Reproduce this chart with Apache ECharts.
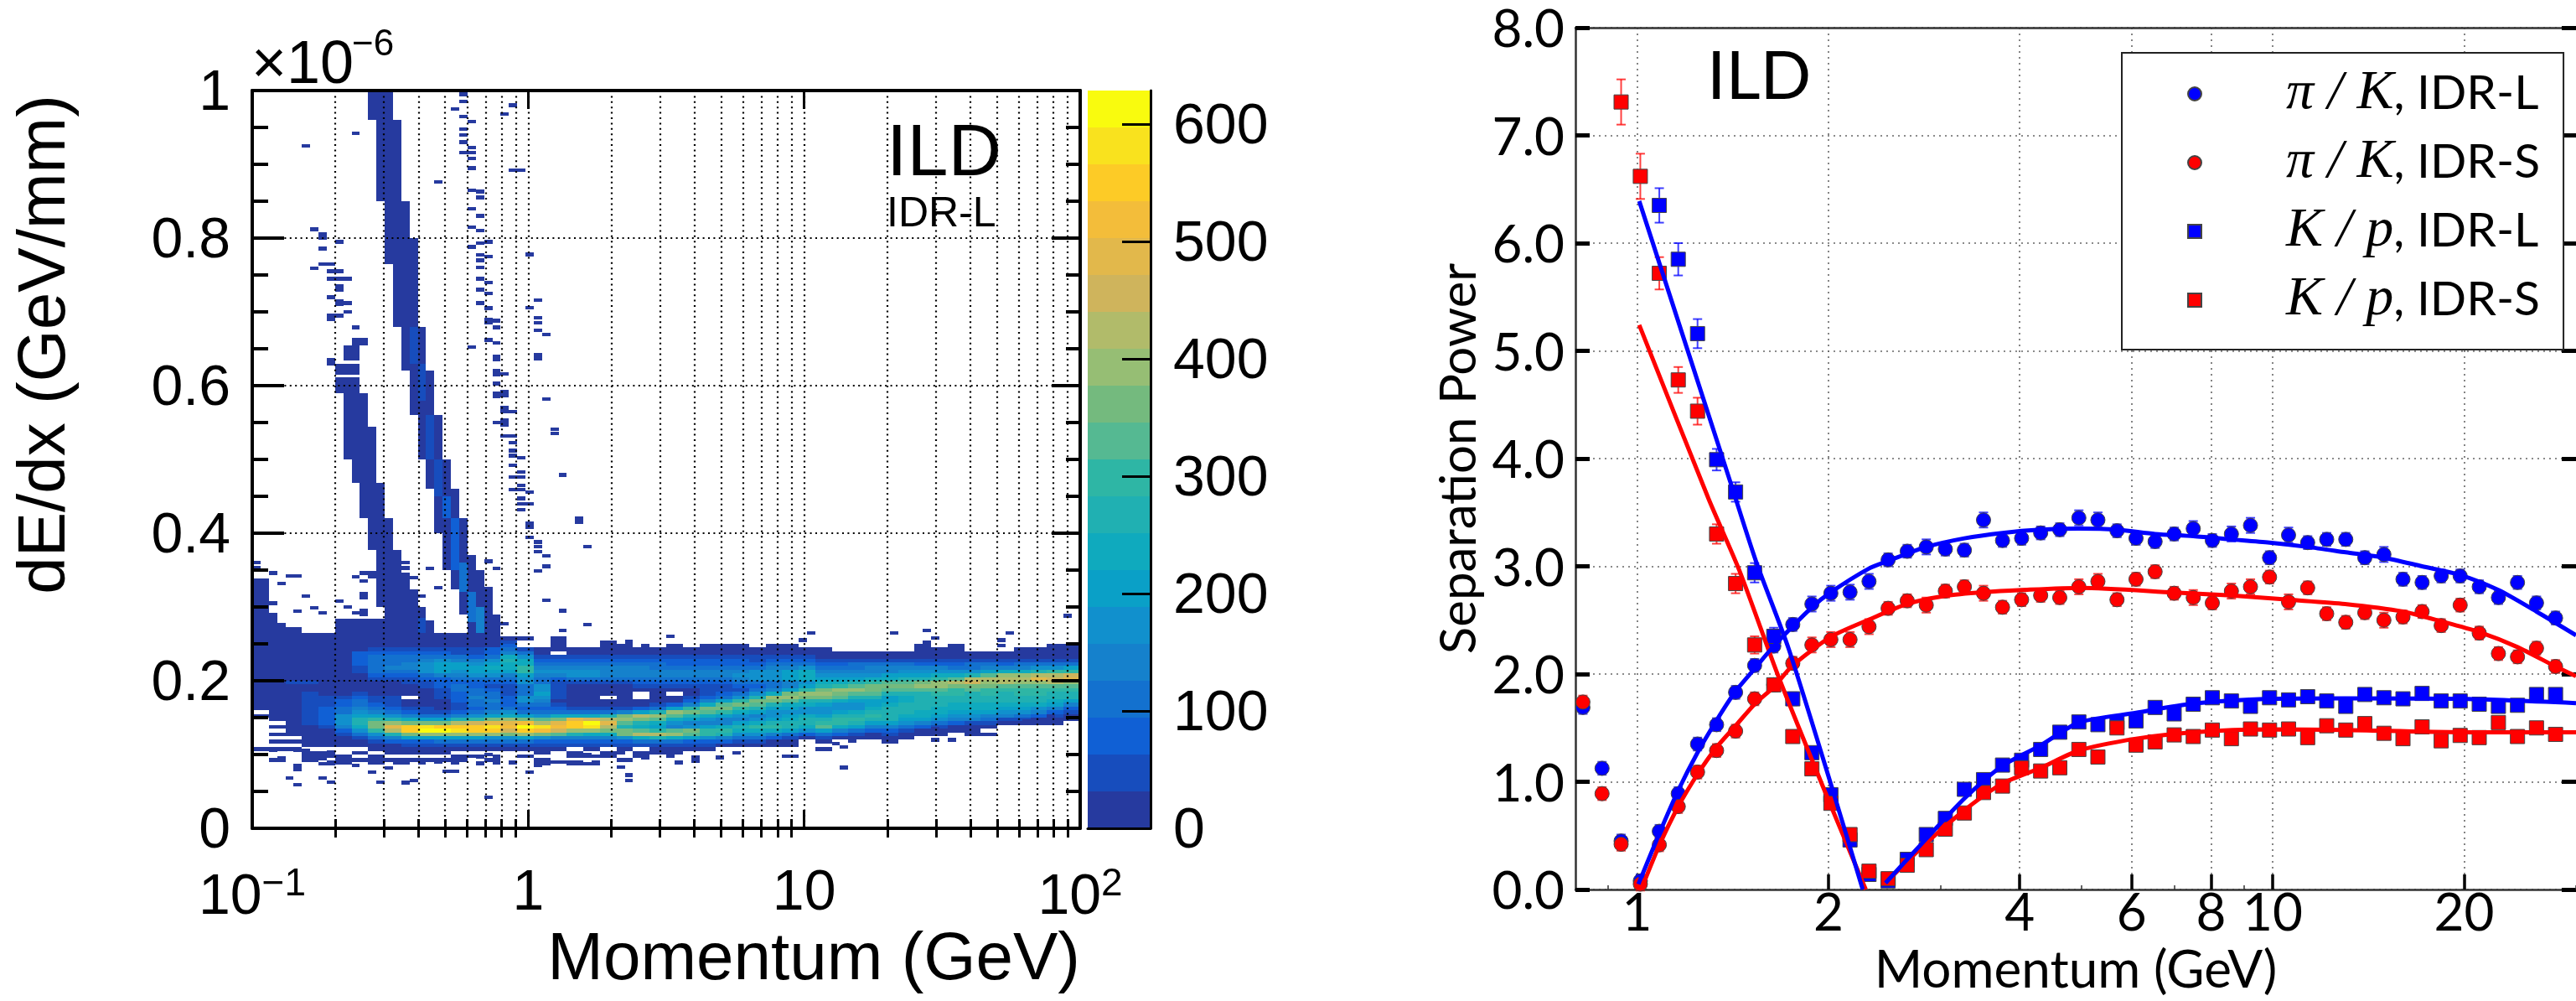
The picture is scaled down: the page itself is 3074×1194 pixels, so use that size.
<!DOCTYPE html>
<html><head><meta charset="utf-8">
<style>html,body{margin:0;padding:0;background:#fff}#c{width:3074px;height:1194px}</style>
<script src="https://cdn.jsdelivr.net/npm/echarts@6/dist/echarts.min.js"></script>
</head><body><div id="c"></div>
<script>
// ---------- left panel: dE/dx histogram ----------
const bandColors = ['#263A9F','#174DBD','#1060D5','#1371CF','#1581CC','#1190CD','#0AA0C7','#0FAABE','#20B0B2','#2EB6A5',
  '#55B992','#74BA7E','#96BE74','#B1BB6A','#CFB45C','#E2B84B','#F3BD3A','#FDCB26','#F9E21E','#F9FB0E'];
const colorbarMax = 628.57;
// raster of the dense band: one string per 0.06-decade column, top row dE/dx=0.265, rows 0.005 tall; chars = colour band (base 20)
const rasterColumns = [
"00000 00000 00000 00000 0.0.. ..... .0...",
"00000 00000 00000 00000 0000. 0.0.0 .0..0",
"00000 00000 00010 00000 00000 000.0 .0...",
"00000 00000 00010 01111 11111 00000 0.0.0",
"00000 00000 00000 00111 22222 10000 0.00. 0",
"00000 00000 00000 00122 33555 42100 0..00",
"00000 22221 10000 01233 45688 75310 0.0.0",
"00001 23333 32100 00112 3469b b9531 00.00",
"00001 23334 32100 00111 2358c fd842 000.0",
"00001 23344 32110 00.00 1247b hhb62 100.0",
"00001 23455 53211 00000 1136b ijc62 100.0",
"00001 23566 64222 11100 0136b hjc63 100.0",
"00001 13466 54323 32221 1248d hic63 10.00",
"00001 12456 65322 33433 2359e hhc63 10.0.",
"00002 23567 65321 23343 346bf ihc53 10..0",
".0123 47877 64321 11222 357cf geb53 10...",
".0..1 35779 96553 33553 236bg jhc63 10.0.",
"....0 01234 54335 56543 235ad igb52 100.0 0",
".0000 .1234 54211 11101 237bf gea42 10...",
"....0 01234 55310 00000 137fh hc842 1.00. 0",
"....0 01234 55310 00000 137ej ic742 10.0. 0",
"..000 01234 44310 00.00 138df db742 1.00.",
"...00 01234 44310 00000 14bca 8bb52 10..0",
"....0 01234 44321 0..00 26db8 7ad73 1.00.",
"....0 01233 44321 00001 38ca7 69d83 100..",
"...00 01223 44321 0.002 6ca75 4ac73 100..",
"....0 01223 44321 00124 9b864 5ba62 10...",
"...00 01223 44321 11247 ba754 69952 10...",
"...00 01223 44321 1236a b9644 79842 0....",
"....0 01223 45432 1359b 97546 87531 0....",
"....0 01123 55532 358ba 86457 97531 0",
"...00 01234 55533 47cb8 65568 97420 0",
"...00 01234 66644 6bca7 65678 86310 0",
"....0 01235 77756 9cb87 55788 7520.",
"....0 00123 45678 bcb86 55689 a6310 .0",
"..... 00123 45679 cba75 56899 7420.",
"..... 00133 4568a ca865 57898 6310.",
"..... 00134 4579b ba866 78986 4200.",
"..... 00134 467ab a8667 88886 42100",
"..... 00134 568ab a8778 88765 3100.",
"...00 00124 568bc a8888 87764 200..",
"....0 00124 579cc a9888 77653 100..",
"...00 00123 57adb 99887 76542 00...",
"..... 00133 58deb a8887 76541 000..",
"..... 00134 6adcb 99887 76431 0.0..",
"..... 00124 7cdda 98887 65410 .....",
"....0 00134 7cdca 99887 65310",
"....0 00135 8dfca 99887 54200",
"...00 00135 9deda 98876 42100",
"...00 00136 9efca 98864 2100"
];
// solid runs of the two tails: [first bin, last bin edge, dE/dx top, dE/dx bottom, colour band] (bin = 0.03 decade)
const tailRuns = [
[14,17,1,.96,0],[15,18,.96,.85,0],[16,19,.85,.80,0],[16,20,.80,.765,0],[17,20,.765,.68,0],[18,21,.68,.62,0],[19,22,.62,.56,0],
[20,23,.56,.50,0],[21,24,.50,.46,0],[22,25,.46,.42,0],[22,26,.42,.40,0],[23,26,.40,.37,0],[23,27,.37,.35,0],[24,28,.35,.324,0],
[25,29,.324,.29,0],[26,30,.29,.265,0],
[19,20,.68,.63,1],[20,21,.63,.58,1],[21,22,.56,.50,1],[22,23,.50,.45,1],[23,24,.45,.42,2],[24,25,.42,.35,2],[25,26,.36,.32,3],[26,27,.32,.28,3],[27,28,.30,.265,4],
[12,14,.665,.654,0],[11,13,.654,.634,0],[10,13,.629,.615,0],[10,13,.611,.59,0],[11,14,.59,.544,0],[11,15,.544,.50,0],[12,15,.50,.468,0],
[13,16,.468,.42,0],[14,17,.42,.377,0],[15,18,.377,.347,0],[15,19,.347,.324,0],[15,20,.324,.30,0],[16,21,.30,.282,0],[16,22,.282,.265,0],
[20,21,.285,.265,1],
[0,2,.339,.265,0],[2,3,.292,.265,0],[3,4,.278,.265,0],[4,6,.273,.265,0],[10,16,.284,.265,0]
];
// isolated filled bins: [bin, dE/dx]
const strayBins = [
[25,.995],[25,.985],[24,.975],[25,.965],[26,.958],[25,.948],[25,.94],[25,.93],[26,.923],[25,.916],[26,.916],[26,.908],[26,.895],[26,.865],[27,.863],[27,.855],
[26,.84],[27,.83],[26,.815],[27,.81],[27,.793],[26,.788],[28,.795],[27,.777],[28,.775],[27,.77],[27,.76],[27,.745],[28,.74],[27,.73],[28,.725],[27,.712],
[28,.705],[28,.69],[28,.685],[29,.688],[29,.679],[28,.662],[29,.658],[26,.652],[29,.64],[29,.635],[29,.62],[29,.615],[30,.616],[29,.603],[29,.59],[30,.592],[30,.587],
[29,.585],[30,.57],[30,.565],[31,.565],[29,.55],[30,.553],[30,.547],[30,.532],[31,.532],[31,.523],[31,.512],[31,.505],[32,.502],[31,.492],[31,.476],[32,.483],[32,.476],
[32,.465],[31,.459],[32,.459],[33,.456],[32,.447],[32,.44],[33,.44],[32,.432],[33,.413],[33,.408],[33,.394],[34,.388],[34,.382],[34,.375],[35,.369],[35,.355],[34,.349],
[39,.42],[39,.415],[40,.382],[35,.309],[37,.295],[29,.352],[28,.362],[28,.325],[28,.32],[40,.276],[37,.268],[30,.277],[34,.716],[33,.706],[34,.692],[34,.685],[34,.675],[35,.669],
[34,.642],[34,.637],[35,.582],[36,.541],[36,.535],[37,.479],[33,.778],[31,.98],[30,.968],[31,.892],[32,.892],[22,.876],
[12,.942],[6,.925],[7,.812],[8,.805],[8,.80],[8,.786],[10,.795],[8,.765],[9,.765],[7,.759],[9,.755],[10,.755],[10,.745],[11,.745],[9,.745],[10,.735],[10,.73],[9,.72],[10,.715],[10,.71],
[11,.712],[11,.70],[9,.695],[10,.695],[9,.69],[12,.679],[9,.635],[9,.63],
[0,.36],[0,.353],[2,.346],[4,.342],[5,.342],[3,.332],[6,.315],[2,.305],[10,.308],[13,.318],[13,.313],[13,.335],[12,.341],[13,.346],[14,.346],[14,.341],[15,.362],[15,.355],
[18,.36],[18,.353],[21,.352],[22,.326],[20,.315],[19,.34],[5,.294],[7,.299],[8,.292],[11,.30],[12,.292],[13,.29],[13,.295],
[28,.042],[5,.059],[9,.0625],[15,.0625],[19,.065],[18,.062],[45,.072],[45,.065],[4,.068],[8,.068],[44,.083],[33,.076],[23,.077],[24,.077],[14,.076],[34,.085],[53,.096],[53,.091],
[71,.0825],[50,.26],[45,.253],[47,.248],[66,.255],[67,.265],[58,.248],[59,.248],[77,.265],[81,.252],[81,.268],[82,.258],[84,.245],[90,.255],[91,.265],[90,.248],[98,.288],
[72,.118],[69,.118],[70,.115],[71,.11],[82,.135],[82,.12],[84,.12],[86,.13],[87,.135],[93,.145],[94,.145],[96,.152],
[27,.097],[28,.10],[29,.097],[24,.095],[25,.095],[36,.09],[37,.09],[39,.10],[40,.10],
[2,.106],[5,.106],[6,.106],[9,.103],[3,.095],[5,.085],[5,.08],[6,.098],[7,.098],[8,.095],[9,.089],[10,.089],[11,.089],[12,.085],[14,.089],[15,.089],[16,.082],[17,.089],[18,.089],
[20,.089],[22,.09],[24,.089],[27,.088],[29,.089],[31,.089],[34,.087],[38,.089],[39,.089],[41,.089],[44,.102],[47,.096],[50,.098],[51,.089],[56,.096],[58,.102],[64,.098],[65,.098]
];
const leftMajorX = [0.1,1,10,100];
const leftMinorX = [.2,.3,.4,.5,.6,.7,.8,.9,2,3,4,5,6,7,8,9,20,30,40,50,60,70,80,90];
const leftXLabels = {0.1:'{n|10}{s|−1}',1:'{n|1}',10:'{n|10}',100:'{n|10}{s|2}'};

// ---------- right panel: separation power ----------
const momentum = [0.822,0.881,0.944,1.012,1.084,1.161,1.245,1.334,1.429,1.531,1.641,1.758,1.884,2.018,2.163,2.317,2.483,2.661,2.851,3.055,3.273,3.508,3.758,4.027,4.315,4.624,
 4.955,5.309,5.689,6.095,6.531,6.998,7.499,8.035,8.610,9.226,9.886,10.59,11.35,12.16,13.03,13.96,14.96,16.03,17.18,18.41,19.72,21.13,22.65,24.27,26.00,27.86];
const piKLong = [1.69,1.125,.45,.08,.54,.89,1.35,1.53,1.83,2.08,2.26,2.46,2.65,2.75,2.76,2.86,3.06,3.14,3.18,3.16,3.15,3.43,3.24,3.26,
 3.31,3.34,3.45,3.43,3.33,3.26,3.23,3.30,3.35,3.24,3.30,3.38,3.08,3.29,3.22,3.25,3.25,3.08,3.11,2.88,2.85,2.91,2.91,2.81,2.71,2.85,2.66,2.52];
const piKShort = [1.74,.89,.42,.05,.415,.77,1.09,1.29,1.47,1.77,1.90,2.10,2.27,2.32,2.32,2.44,2.61,2.68,2.64,2.77,2.81,2.75,2.62,2.69,
 2.73,2.71,2.81,2.86,2.69,2.88,2.95,2.75,2.71,2.66,2.77,2.81,2.90,2.67,2.80,2.56,2.48,2.57,2.50,2.53,2.58,2.45,2.64,2.38,2.19,2.16,2.24,2.07];
const kpLong = [null,null,null,null,6.35,5.85,5.16,3.99,3.69,2.94,2.35,1.77,1.27,.88,.46,.14,.08,.28,.51,.66,.93,1.02,1.155,1.20,
 1.30,1.46,1.555,1.53,1.55,1.565,1.69,1.63,1.72,1.78,1.75,1.70,1.78,1.76,1.79,1.75,1.70,1.81,1.78,1.77,1.82,1.75,1.75,1.72,1.70,1.71,1.81,1.81];
const kpShort = [null,null,7.31,6.62,5.72,4.73,4.44,3.30,2.84,2.27,1.90,1.42,1.12,.80,.51,.17,.10,.225,.37,.56,.71,.90,.96,1.13,
 1.10,1.13,1.30,1.23,1.50,1.34,1.37,1.435,1.42,1.48,1.40,1.49,1.48,1.49,1.41,1.52,1.48,1.54,1.45,1.40,1.51,1.38,1.43,1.41,1.55,1.42,1.50,1.44];
const kpLongErr = [0,0,0,0,.16,.15,.135,.10,.09,.09,.08,.06,.05,.05,.05];
const kpShortErr = [0,0,.21,.21,.15,.12,.125,.09,.09,.08,.06,.05,.05,.05,.05];
const piKErr = [.06,.06,.06,.06,.06,.06,.06,.06,.06,.06,.06,.06,.07,.07,.07,.07,.06,.06,.07,.06,.06,.07,.06,.06,.06,.06,.07,.07,.06,.06,.06,.06,.07,.06,.07,.07,.06,.07,.06,.06,.06,.06,.07,.06,.06,.06,.06,.06,.06,.06,.06,.06];
const fitPiKLong = [[1.005,.05],[1.084,.52],[1.161,.92],[1.245,1.27],[1.334,1.57],[1.429,1.84],[1.531,2.05],[1.641,2.26],[1.884,2.62],[2.018,2.76],[2.317,2.98],[2.483,3.05],[2.851,3.18],[3.273,3.26],[3.758,3.31],[4.315,3.34],[4.955,3.35],[5.689,3.34],[6.531,3.30],[7.499,3.28],[8.61,3.25],[9.886,3.22],[11.35,3.18],[13.03,3.13],[14.96,3.08],[17.18,3.00],[19.72,2.92],[22.65,2.78],[26,2.58],[30,2.36]];
const fitPiKShort = [[1.02,.03],[1.084,.41],[1.161,.77],[1.245,1.07],[1.334,1.32],[1.429,1.52],[1.531,1.72],[1.641,1.88],[1.758,2.08],[2.018,2.345],[2.317,2.505],[2.661,2.65],[3.055,2.725],[3.508,2.76],[4.027,2.78],[5.0,2.80],[7.0,2.757],[8.61,2.73],[10.59,2.69],[13.0,2.65],[16.03,2.58],[18.41,2.49],[21.13,2.39],[24.27,2.25],[27.86,2.07],[30,1.98]];
const fitKpLong = [[1.008,6.39],[1.406,3.76],[1.538,3.05],[1.733,2.23],[2.03,.93],[2.265,0]];
const fitKpShort = [[1.008,5.24],[1.295,3.63],[1.449,2.96],[1.672,1.965],[1.975,.91],[2.29,0]];
const fitKpRiseLong = [[2.46,.06],[2.85,.47],[3.28,.85],[3.76,1.15],[4.32,1.34],[4.955,1.55],[6.095,1.64],[7.5,1.725],[9.886,1.77],[13,1.775],[19.72,1.77],[30,1.73]];
const fitKpRiseShort = [[2.46,.06],[2.85,.43],[3.28,.74],[3.76,.985],[4.32,1.13],[4.955,1.29],[6.095,1.40],[7.5,1.46],[9.886,1.486],[13,1.48],[19.72,1.46],[30,1.46]];
const rightMajorX = [1,2,4,6,8,10,20];
const rightMinorX = [.9,3,5,7,9,30];
const rightYTicks = [0,1,2,3,4,5,6,7,8];
const legendNames = ['pikL','pikS','kpL','kpS'];

// ---------- build ----------
const BLACK='#000', RED='#ff0000', BLUE='#0000ff';
const FONT_L='"Liberation Sans"', FONT_R='Lato';
const edge = b => 0.1*Math.pow(10,b*0.03);
const histCells = [];
rasterColumns.forEach((col,c)=>{
  const s = col.replace(/ /g,'');
  for(let i=0;i<s.length;i++){
    if(s[i]==='.') continue;
    histCells.push([edge(2*c),edge(2*c+2),0.265-0.005*i,0.26-0.005*i,parseInt(s[i],20)]);
  }
});
tailRuns.forEach(r=>histCells.push([edge(r[0]),edge(r[1]),r[2],r[3],r[4]]));
strayBins.forEach(r=>histCells.push([edge(r[0]),edge(r[0]+1),r[1]+.0025,r[1]-.0025,0]));
const cellRender = (params,api)=>{
  const a=api.coord([api.value(0),api.value(2)]), b=api.coord([api.value(1),api.value(3)]);
  const x=Math.round(a[0]), y=Math.round(a[1]);
  return {type:'rect',shape:{x,y,width:Math.max(1,Math.round(b[0])-x),height:Math.max(1,Math.round(b[1])-y)},style:{fill:bandColors[api.value(4)]}};
};
const bandCells = bandColors.map((c,i)=>[i*colorbarMax/20,(i+1)*colorbarMax/20,i]);
const barRender = (params,api)=>{
  const a=api.coord([0,api.value(1)]), b=api.coord([1,api.value(0)]);
  return {type:'rect',shape:{x:a[0],y:Math.round(a[1]),width:b[0]-a[0],height:Math.round(b[1])-Math.round(a[1])},style:{fill:bandColors[api.value(2)]}};
};
const pairs = vals => momentum.map((p,i)=>vals[i]==null?null:[p,vals[i]]).filter(Boolean);
const errData = (vals,errs) => momentum.map((p,i)=>(vals[i]==null||!errs[i])?null:[p,vals[i]-errs[i],vals[i]+errs[i]]).filter(Boolean);
const errRender = color => (params,api)=>{
  const a=api.coord([api.value(0),api.value(1)]), b=api.coord([api.value(0),api.value(2)]);
  const st={stroke:color,lineWidth:2,opacity:.75};
  return {type:'group',children:[
    {type:'line',shape:{x1:a[0],y1:a[1],x2:b[0],y2:b[1]},style:st},
    {type:'line',shape:{x1:a[0]-5.5,y1:a[1],x2:a[0]+5.5,y2:a[1]},style:st},
    {type:'line',shape:{x1:b[0]-5.5,y1:b[1],x2:b[0]+5.5,y2:b[1]},style:st}]};
};
const errSeries = (vals,errs,color,z)=>({type:'custom',xAxisIndex:4,yAxisIndex:2,z,silent:true,clip:false,renderItem:errRender(color),encode:{x:0,y:[1,2]},data:errData(vals,errs)});
const pts = (name,vals,color,symbol,z)=>({type:'scatter',name,xAxisIndex:4,yAxisIndex:2,z,symbol,symbolSize:17,clip:false,
  itemStyle:{color,borderColor:'#444',borderWidth:1,opacity:1},data:pairs(vals)});
const fit = (data,color,z)=>({type:'line',xAxisIndex:4,yAxisIndex:2,z,data,showSymbol:false,symbol:'none',smooth:.25,clip:true,lineStyle:{color,width:5},silent:true});
const blackLine = w=>({show:true,onZero:false,lineStyle:{color:BLACK,width:w}});
const dotted = {show:true,lineStyle:{color:BLACK,width:2.2,type:[2,4.4]}};
const dottedGrey = {show:true,lineStyle:{color:'#666',width:1.6,type:[2,5]}};
const logAxis = extra => Object.assign({type:'log',logBase:10,gridIndex:0,min:.1,max:100,z:5,axisLabel:{show:false},axisTick:{show:false},axisLine:{show:false},splitLine:{show:false}},extra);

const legendRich = {m:{fontFamily:'"Liberation Serif"',fontStyle:'italic',fontSize:66,color:BLACK,lineHeight:60},
  n:{fontFamily:FONT_R,fontSize:57,color:BLACK,lineHeight:60}};
const legendText = {pikL:'{m|π / K}{n|, IDR-L}',pikS:'{m|π / K}{n|, IDR-S}',kpL:'{m|K / p}{n|, IDR-L}',kpS:'{m|K / p}{n|, IDR-S}'};

const chart = echarts.init(document.getElementById('c'),null,{renderer:'canvas',width:3074,height:1194});
chart.setOption({
  animation:false, backgroundColor:'#fff',
  grid:[
    {left:301,top:108,width:988,height:880},
    {left:1880,top:33,width:1203,height:1037.5},
    {left:1298,top:108,width:75,height:880}
  ],
  xAxis:[
    logAxis({position:'bottom',axisLine:blackLine(4),
      axisTick:{show:true,inside:true,length:22,lineStyle:{color:BLACK,width:3},customValues:leftMajorX},
      axisLabel:{show:true,margin:44,customValues:leftMajorX,formatter:v=>leftXLabels[+(+v).toPrecision(3)]||'',
        rich:{n:{fontFamily:FONT_L,fontSize:68,color:BLACK},s:{fontFamily:FONT_L,fontSize:46,color:BLACK,padding:[0,0,32,0]}}},
      splitLine:dotted,
      name:'Momentum (GeV)',nameLocation:'end',nameGap:0,
      nameTextStyle:{fontFamily:FONT_L,fontSize:80,color:BLACK,align:'right',verticalAlign:'top',padding:[118,0,0,0]}}),
    logAxis({position:'bottom',axisTick:{show:true,inside:true,length:11,lineStyle:{color:BLACK,width:3},customValues:leftMinorX},splitLine:dotted}),
    logAxis({position:'top',axisLine:blackLine(4),axisTick:{show:true,inside:true,length:22,lineStyle:{color:BLACK,width:3},customValues:leftMajorX}}),
    logAxis({position:'top',axisTick:{show:true,inside:true,length:11,lineStyle:{color:BLACK,width:3},customValues:leftMinorX}}),
    logAxis({gridIndex:1,min:.8,max:30,position:'bottom',z:1,axisLine:{show:true,onZero:false,lineStyle:{color:'#333',width:2.5}},
      axisTick:{show:true,inside:true,length:18,lineStyle:{color:BLACK,width:3.5},customValues:rightMajorX},
      axisLabel:{show:true,margin:-2,customValues:rightMajorX,fontFamily:FONT_R,fontSize:62,color:BLACK,formatter:v=>String(Math.round(v))},
      splitLine:dottedGrey,
      name:'Momentum (GeV)',nameLocation:'middle',nameGap:66,nameTextStyle:{fontFamily:FONT_R,fontSize:62,color:BLACK}}),
    logAxis({gridIndex:1,min:.8,max:30,position:'bottom',z:1,axisTick:{show:true,inside:true,length:5,lineStyle:{color:'#333',width:1.5},customValues:rightMinorX}}),
    {type:'value',gridIndex:2,min:0,max:1,show:true,axisLine:{show:true,onZero:false,lineStyle:{color:BLACK,width:3}},axisTick:{show:false},axisLabel:{show:false},splitLine:{show:false},z:5},
    logAxis({gridIndex:1,min:.8,max:30,position:'top',z:1,axisLine:{show:true,onZero:false,lineStyle:{color:'#333',width:2.5}}})
  ],
  yAxis:[
    {type:'value',gridIndex:0,min:0,max:1,interval:.2,position:'left',z:5,axisLine:blackLine(4),
      axisTick:{show:true,inside:true,length:38,lineStyle:{color:BLACK,width:4}},
      minorTick:{show:true,splitNumber:4,length:19,lineStyle:{color:BLACK,width:4}},
      axisLabel:{margin:26,fontFamily:FONT_L,fontSize:68,color:BLACK,verticalAlign:'top',lineHeight:8},
      splitLine:dotted,
      name:'dE/dx (GeV/mm)',nameLocation:'middle',nameGap:206,nameRotate:90,
      nameTextStyle:{fontFamily:FONT_L,fontSize:80,color:BLACK,padding:[0,0,0,274]}},
    {type:'value',gridIndex:0,min:0,max:1,interval:.2,position:'right',z:5,axisLine:blackLine(4),
      axisTick:{show:true,inside:true,length:34,lineStyle:{color:BLACK,width:4}},
      minorTick:{show:true,splitNumber:4,length:17,lineStyle:{color:BLACK,width:4}},
      axisLabel:{show:false},splitLine:{show:false}},
    {type:'value',gridIndex:1,min:0,max:8,interval:1,position:'left',z:1,axisLine:{show:true,onZero:false,lineStyle:{color:'#333',width:2.5}},
      axisTick:{show:true,inside:true,length:17,customValues:rightYTicks,lineStyle:{color:BLACK,width:5}},
      axisLabel:{margin:13,fontFamily:FONT_R,fontSize:62,color:BLACK,verticalAlign:'top',lineHeight:6,formatter:v=>(+v).toFixed(1)},
      splitLine:dottedGrey,
      name:'Separation Power',nameLocation:'middle',nameGap:108,nameRotate:90,nameTextStyle:{fontFamily:FONT_R,fontSize:60,color:BLACK}},
    {type:'value',gridIndex:1,min:0,max:8,interval:1,position:'right',z:1,axisLine:{show:false},
      axisTick:{show:true,inside:true,length:17,lineStyle:{color:BLACK,width:5}},axisLabel:{show:false},splitLine:{show:false}},
    {type:'value',gridIndex:2,min:0,max:colorbarMax,interval:100,position:'right',z:5,axisLine:{show:true,onZero:false,lineStyle:{color:BLACK,width:3}},
      axisTick:{show:true,inside:true,length:34,lineStyle:{color:BLACK,width:3}},
      axisLabel:{margin:27,fontFamily:FONT_L,fontSize:68,color:BLACK,verticalAlign:'top',lineHeight:8},splitLine:{show:false}}
  ],
  legend:{show:true,orient:'vertical',left:2532,top:63,z:20,
    data:legendNames.map(name=>({name})),
    padding:[16,28,26,78],itemGap:16,itemWidth:16,itemHeight:16,
    backgroundColor:'#fff',borderColor:'#222',borderWidth:2,borderRadius:0,
    inactiveColor:'#ccc',selectedMode:false,
    formatter:n=>legendText[n],
    textStyle:{padding:[0,0,0,96],rich:legendRich}},
  series:[
    {type:'custom',xAxisIndex:0,yAxisIndex:0,z:2,silent:true,clip:true,renderItem:cellRender,encode:{x:[0,1],y:[2,3]},data:histCells,progressive:0},
    {type:'custom',xAxisIndex:6,yAxisIndex:4,z:2,silent:true,renderItem:barRender,encode:{y:[0,1]},data:bandCells},
    errSeries(piKLong,piKErr,BLUE,3),errSeries(piKShort,piKErr,RED,3),errSeries(kpLong,kpLongErr,BLUE,3),errSeries(kpShort,kpShortErr,RED,3),
    pts('pikL',piKLong,BLUE,'circle',4),pts('pikS',piKShort,RED,'circle',4),pts('kpL',kpLong,BLUE,'rect',5),pts('kpS',kpShort,RED,'rect',5),
    fit(fitKpShort,RED,6),fit(fitPiKShort,RED,6),fit(fitKpRiseShort,RED,6),
    fit(fitKpLong,BLUE,7),fit(fitPiKLong,BLUE,7),fit(fitKpRiseLong,BLUE,7)
  ],
  graphic:[
    {type:'text',z:30,style:{x:1058,y:185,text:'ILD',fontFamily:FONT_L,fontSize:88,fill:BLACK,textVerticalAlign:'middle'}},
    {type:'text',z:30,style:{x:1058,y:256,text:'IDR-L',fontFamily:FONT_L,fontSize:50,fill:BLACK,textVerticalAlign:'middle'}},
    {type:'text',z:30,style:{x:300,y:79,text:'×10',fontFamily:FONT_L,fontSize:72,fill:BLACK,textVerticalAlign:'middle'}},
    {type:'text',z:30,style:{x:420,y:54,text:'−6',fontFamily:FONT_L,fontSize:44,fill:BLACK,textVerticalAlign:'middle'}},
    {type:'text',z:30,style:{x:2037,y:92,text:'ILD',fontFamily:FONT_R,fontSize:80,fill:BLACK,textVerticalAlign:'middle'}}
  ]
});
</script></body></html>
